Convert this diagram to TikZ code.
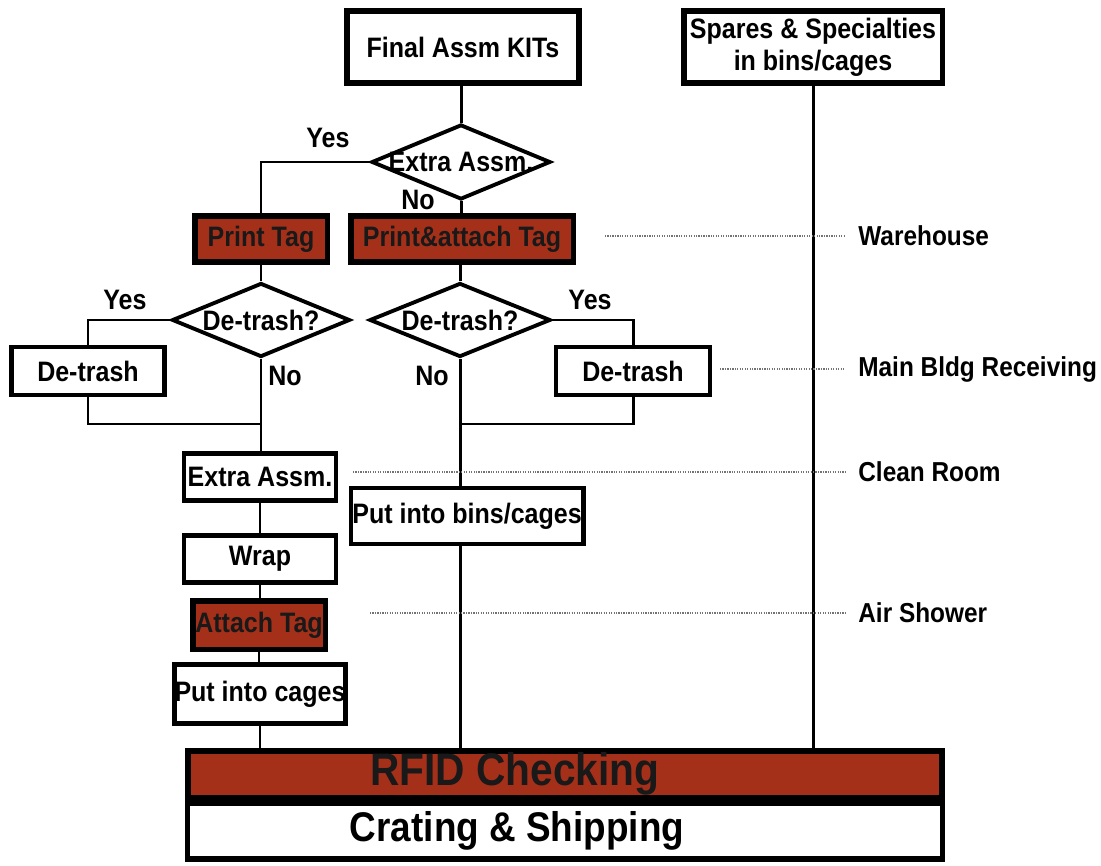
\documentclass[tikz,border=0pt]{standalone}
\usepackage{fontspec}
\newfontfamily\flowfont{Liberation Sans}[FakeStretch=0.89]
\usetikzlibrary{shapes.geometric}
\definecolor{tagred}{RGB}{165,48,25}
\newcommand{\boxfont}{\flowfont\bfseries\fontsize{16}{18}\selectfont}
\newcommand{\zonefont}{\flowfont\bfseries\fontsize{15.6}{18}\selectfont}
\newcommand{\barfont}{\flowfont\bfseries\fontsize{26}{28}\selectfont}
\newcommand{\shipfont}{\flowfont\bfseries\fontsize{23.6}{28}\selectfont}

\begin{document}
\begin{tikzpicture}[
  x=0.02cm, y=-0.02cm,
  stepnode/.style={
    draw,
    fill=white,
    line width=2.3pt,
    align=center,
    inner sep=0pt,
    font=\boxfont
  },
  source/.style={stepnode, line width=3.4pt},
  tagnode/.style={stepnode, line width=3.4pt, fill=tagred, text=black!90},
  decision/.style={
    draw,
    diamond,
    fill=white,
    line width=2.2pt,
    inner sep=0pt,
    aspect=1,
    font=\boxfont
  },
  answer/.style={font=\boxfont, inner sep=0pt},
  zone/.style={font=\zonefont, anchor=west, inner sep=0pt},
  link/.style={line width=1.7pt},
  zoneline/.style={line width=0.7pt, black!55, dash pattern=on 0.7pt off 0.7pt}
]
  \useasboundingbox (0,0) rectangle (1101,865);

  \node[source, minimum width=4.64cm, minimum height=1.44cm] (kits) at (463,47)
    {Final Assm KITs};
  \node[source, minimum width=5.18cm, minimum height=1.44cm] (spares) at (813,47)
    {Spares \& Specialties\\ in bins/cages};

  \node[decision, minimum width=3.58cm, minimum height=1.50cm] (xasm) at (461,162)
    {\makebox[0pt]{Extra Assm.}};

  \node[tagnode, minimum width=2.66cm, minimum height=0.92cm] (ptag) at (261,239)
    {Print Tag};
  \node[tagnode, minimum width=4.46cm, minimum height=0.92cm] (patag) at (462,239)
    {Print\&attach Tag};

  \node[decision, minimum width=3.56cm, minimum height=1.48cm] (dtqleft) at (261,320)
    {\makebox[0pt]{De-trash?}};
  \node[decision, minimum width=3.62cm, minimum height=1.48cm] (dtqright) at (460,320)
    {\makebox[0pt]{De-trash?}};

  \node[stepnode, minimum width=3.06cm, minimum height=0.96cm] (dtleft) at (88,371)
    {De-trash};
  \node[stepnode, minimum width=3.08cm, minimum height=0.96cm] (dtright) at (633,371)
    {De-trash};

  \node[stepnode, minimum width=3.04cm, minimum height=0.94cm] (xabox) at (260,477)
    {Extra Assm.};
  \node[stepnode, minimum width=4.66cm, minimum height=1.12cm] (bins) at (467,516)
    {Put into bins/cages};
  \node[stepnode, minimum width=3.04cm, minimum height=0.94cm] (wrap) at (260,559)
    {Wrap};
  \node[tagnode, minimum width=2.66cm, minimum height=0.98cm] (atag) at (259,625)
    {Attach Tag};
  \node[stepnode, minimum width=3.34cm, minimum height=1.18cm] (cages) at (260,694)
    {Put into cages};

  \node[stepnode, line width=3pt, minimum width=15.1cm, minimum height=1.12cm,
    font=\shipfont] (crate) at (565,831) {Crating \& Shipping\hspace*{1.92cm}};
  \node[tagnode, minimum width=15.1cm, minimum height=0.94cm,
    font=\barfont] (rfid) at (565,774) {RFID Checking\hspace*{2cm}};

  \node[answer] (yesxa) at (328,138) {Yes};
  \node[answer] (noxa) at (418,200) {No};
  \node[answer] (yesl) at (125,300) {Yes};
  \node[answer] (nol) at (285,376) {No};
  \node[answer] (yesr) at (590,300) {Yes};
  \node[answer] (nor) at (432,376) {No};

  \node[zone] (warehouse) at (858,236) {Warehouse};
  \node[zone] (mainbldg) at (858,369) {Main Bldg Receiving};
  \node[zone] (cleanroom) at (858,472) {Clean Room};
  \node[zone] (airshower) at (858,613) {Air Shower};

  \coordinate (joinl) at (261,424);
  \coordinate (joinr) at (460,424);
  \coordinate (whstart) at (605,236);
  \coordinate (mbstart) at (720,369);
  \coordinate (crstart) at (353,472);
  \coordinate (asstart) at (370,613);

  \draw[link] (kits.south -| xasm.north) -- (xasm.north);
  \draw[link] (xasm.west) -| (ptag.north);
  \draw[link] (xasm.south) -- (patag.north -| xasm.south);
  \draw[link] (ptag.south) -- (dtqleft.north);
  \draw[link] (patag.south -| dtqright.north) -- (dtqright.north);

  \draw[link] (dtqleft.west) -| (dtleft.north);
  \draw[link] (dtleft.south) |- (joinl);
  \draw[link] (dtqleft.south) -- (xabox.north -| dtqleft.south);
  \draw[link] (dtqright.east) -| (dtright.north);
  \draw[link] (dtright.south) |- (joinr);
  \draw[link] (dtqright.south) -- (bins.north -| dtqright.south);
  \draw[link] (bins.south -| dtqright.south) -- (rfid.north -| dtqright.south);

  \draw[link] (xabox.south) -- (wrap.north);
  \draw[link] (wrap.south) -- (atag.north -| wrap.south);
  \draw[link] (atag.south) -- (cages.north -| atag.south);
  \draw[link] (cages.south) -- (rfid.north -| cages.south);
  \draw[link] (spares.south) -- (rfid.north -| spares.south);

  \draw[zoneline] (whstart) -- ([xshift=-0.26cm]warehouse.west);
  \draw[zoneline] (mbstart) -- ([xshift=-0.26cm]mainbldg.west);
  \draw[zoneline] (crstart) -- ([xshift=-0.26cm]cleanroom.west);
  \draw[zoneline] (asstart) -- ([xshift=-0.26cm]airshower.west);
\end{tikzpicture}
\end{document}
